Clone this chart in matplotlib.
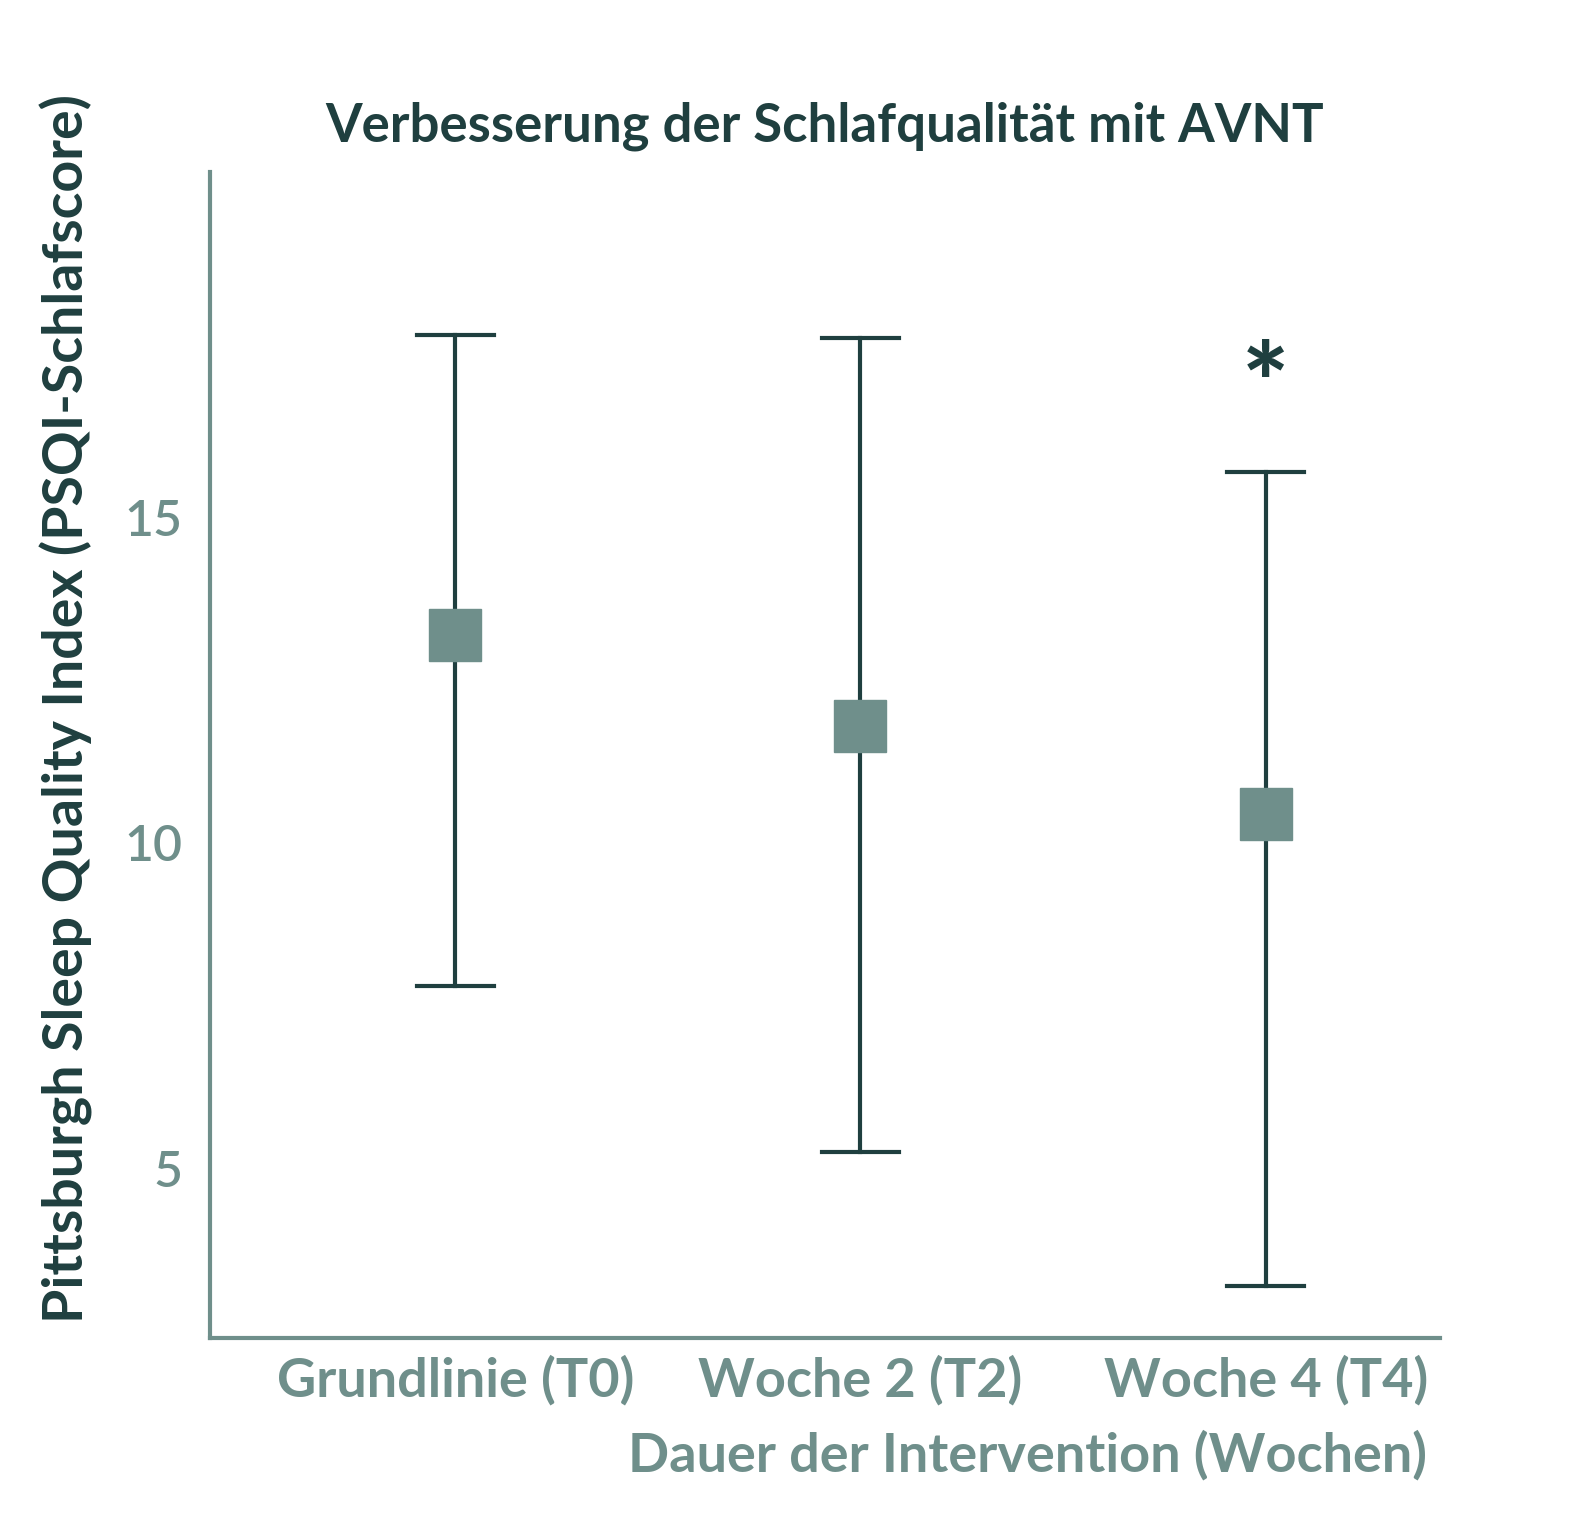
import matplotlib.pyplot as plt

# Werte
categories = ["Grundlinie (T0)", "Woche 2 (T2)", "Woche 4 (T4)"]
means = [13.2, 11.8, 10.45]
upper = [17.8, 17.75, 15.7]
lower = [7.8, 5.25, 3.2]

dark = "#1f3f3f"
grey = "#6f8f8b"
plt.rcParams['font.family'] = ['Lato', 'DejaVu Sans']

fig = plt.figure(figsize=(15.72, 15.32), dpi=100)
ax = fig.add_axes([0.1336, 0.1266, 0.7824, 0.7611])

x = list(range(len(categories)))
for xi, m, lo, hi in zip(x, means, lower, upper):
    ax.plot([xi, xi], [lo, hi], color=dark, lw=3, zorder=1)
    for y in (lo, hi):
        ax.plot([xi - 0.095, xi + 0.095], [y, y], color=dark, lw=3, zorder=1)
ax.plot(x, means, 's', color=grey, markersize=37, zorder=2, linestyle='none')

ax.text(2, 16.95, "*", ha='center', va='center', fontsize=80, fontweight='black', color=dark)

ax.set_xlim(-0.605, 2.43)
ax.set_ylim(2.4, 20.3)
ax.set_xticks(x)
ax.set_xticklabels(categories, fontsize=39, fontweight='bold', color=grey)
ax.set_yticks([5, 10, 15])
ax.set_yticklabels(["5", "10", "15"], fontsize=36, fontweight='semibold', color=grey)
ax.tick_params(length=0, pad=12)
ax.tick_params(axis='y', pad=20)
for s in ('top', 'right'):
    ax.spines[s].set_visible(False)
for s in ('left', 'bottom'):
    ax.spines[s].set_color(grey)
    ax.spines[s].set_linewidth(3)

ax.set_title("Verbesserung der Schlafqualität mit AVNT", fontsize=38, fontweight='bold',
             color=dark, pad=22)
ax.set_ylabel("Pittsburgh Sleep Quality Index (PSQI-Schlafscore)", fontsize=40,
              fontweight='bold', color=dark)
ax.yaxis.set_label_coords(-0.095, 0.54)
fig.text(0.908, 0.05, "Dauer der Intervention (Wochen)", ha='right', va='center',
         fontsize=39, fontweight='bold', color=grey)

fig.savefig("out.png", dpi=100)
